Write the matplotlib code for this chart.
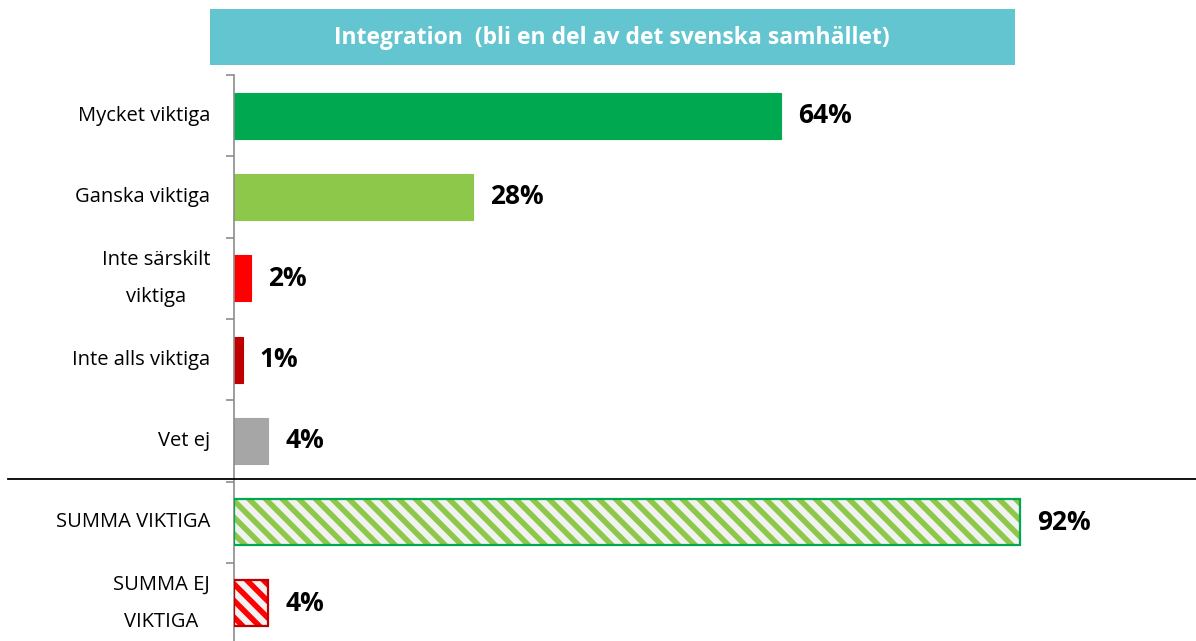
import matplotlib
matplotlib.use("Agg")
import matplotlib.pyplot as plt
from matplotlib.patches import Rectangle
from matplotlib.lines import Line2D

categories = ["Mycket viktiga", "Ganska viktiga", "Inte särskilt\nviktiga",
              "Inte alls viktiga", "Vet ej", "SUMMA VIKTIGA", "SUMMA EJ\nVIKTIGA"]
values = [64, 28, 2, 1, 4, 92, 4]
labels = ["64%", "28%", "2%", "1%", "4%", "92%", "4%"]
title = "Integration  (bli en del av det svenska samhället)"

solid_colors = ["#00A84F", "#8DC84B", "#FF0000", "#C00000", "#A6A6A6"]
hatch_colors = ["#8DC84B", "#FF0000"]
hatch_edges = ["#00A84F", "#C00000"]

plt.rcParams['font.family'] = ['Open Sans', 'DejaVu Sans']
plt.rcParams['hatch.linewidth'] = 4.0

W, H = 1196, 641
fig = plt.figure(figsize=(W / 100, H / 100), dpi=100)

x0 = 234
px_per = (1020 - 234) / 92.0
ax_right = 1120
top = 75
band = 81.3
bottom = top + 7 * band
ax = fig.add_axes([x0 / W, 1 - bottom / H, (ax_right - x0) / W, (bottom - top) / H])
ax.set_xlim(0, (ax_right - x0) / px_per)
ax.set_ylim(6.5, -0.5)

ypos = list(range(len(categories)))
bh = 46 / band
for i, (v, c) in enumerate(zip(values[:5], solid_colors)):
    ax.barh(ypos[i], v, height=bh, color=c, edgecolor=c, linewidth=0.8, zorder=2)
for j, i in enumerate([5, 6]):
    ax.barh(ypos[i], values[i], height=bh, color="#F2F2F2", edgecolor=hatch_colors[j],
            hatch="\\\\", linewidth=0, zorder=2)
    ax.barh(ypos[i], values[i], height=bh, fill=False, edgecolor=hatch_edges[j],
            linewidth=1.6, zorder=3)

for i, (v, lab) in enumerate(zip(values, labels)):
    ax.text(v + 17 / px_per, ypos[i], lab, ha="left", va="center",
            fontsize=19, fontweight="bold", color="black")

for s in ["top", "right", "bottom"]:
    ax.spines[s].set_visible(False)
ax.spines["left"].set_color("#8C8C8C")
ax.spines["left"].set_linewidth(1.2)
ax.set_xticks([])
ax.set_yticks([y - 0.5 for y in ypos] + [6.5])
ax.set_yticklabels([])
ax.tick_params(axis="y", length=6, color="#8C8C8C", width=1.2)
for i, cat in enumerate(categories):
    ax.text(-24 / px_per, ypos[i], cat, ha="right", va="center", fontsize=14.5,
            multialignment="center", linespacing=2.1, color="black")

# separator line
ysep = 1 - 479 / H
fig.add_artist(Line2D([8 / W, 1.0], [ysep, ysep], color="black", linewidth=1.3,
                      transform=fig.transFigure))

# title box
fig.add_artist(Rectangle((210 / W, 1 - 65 / H), (1015 - 210) / W, (65 - 9) / H,
                         transform=fig.transFigure, facecolor="#63C5D0",
                         edgecolor="none"))
fig.text(612 / W, 1 - 38 / H, title, ha="center", va="center", color="white",
         fontsize=16.5, fontweight="bold")

fig.savefig("out.png", dpi=100)
